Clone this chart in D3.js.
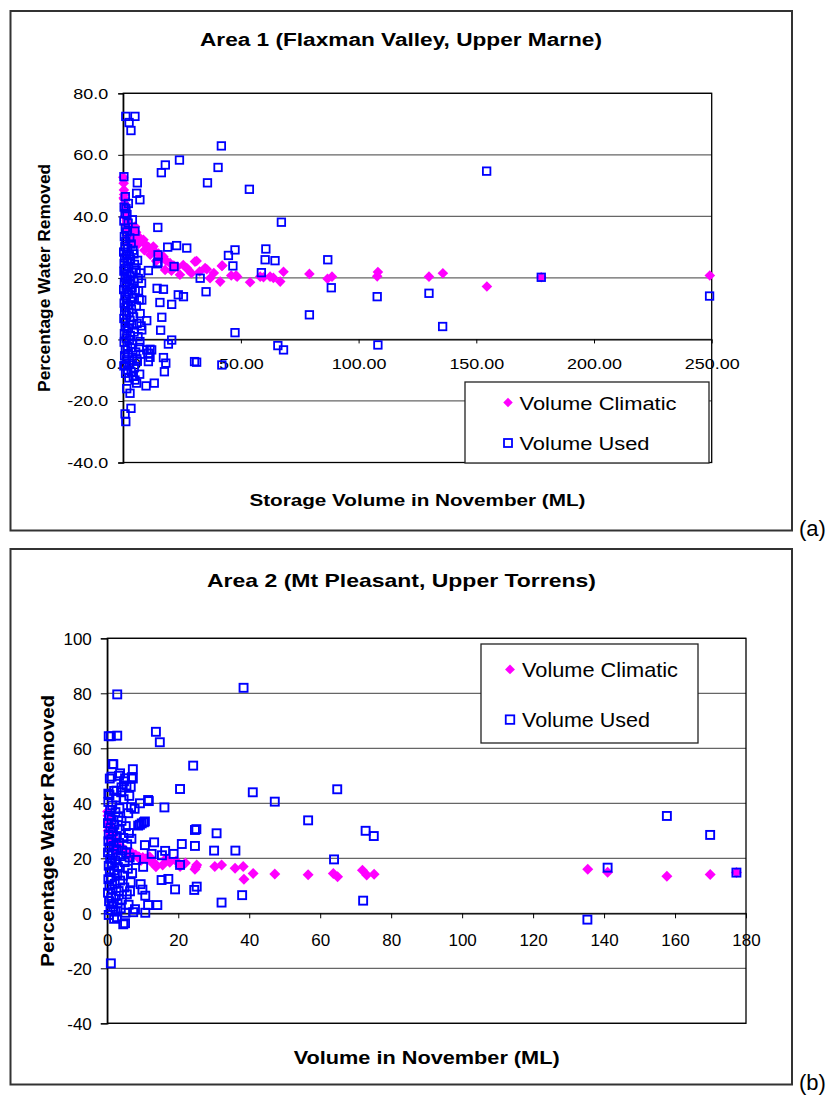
<!DOCTYPE html>
<html>
<head>
<meta charset="utf-8">
<title>Percentage water removed</title>
<script src="https://cdn.jsdelivr.net/npm/d3@7"></script>
<style>
  body { margin: 0; background: #fff; }
  svg text { font-family: "Liberation Sans", Arial, sans-serif; fill: #000; }
</style>
</head>
<body>
<script>

// ---- data ----

var area1Title = "Area 1 (Flaxman Valley, Upper Marne)";
var area1XLabel = "Storage Volume in November (ML)";
var area1XTicks = [0, 50, 100, 150, 200, 250];
var area1YTicks = [-40, -20, 0, 20, 40, 60, 80];

// [storage volume, percentage removed]
var area1Climatic = [
  [0.05,52.7],[0.2,50.8],[0.3,48.6],[0.4,47.1],[0.5,45.5],[0.6,44.2],[0.8,43.1],[0.9,42.0],
  [1.0,41.2],[1.2,40.3],[1.3,39.4],[1.5,38.6],[1.7,37.9],[1.9,37.1],[2.1,36.4],[2.3,35.6],
  [2.6,35.0],[2.9,34.3],[3.2,33.6],[3.5,33.0],[3.8,32.4],[4.2,31.9],[4.6,31.2],[0.2,46.0],
  [0.7,40.0],[1.1,37.5],[1.6,35.2],[2.0,33.2],[2.5,31.5],[3.0,30.8],
  [5.0,36.7],[5.5,34.8],[6.2,33.6],[7.0,32.9],[8.6,32.4],[9.5,30.8],[10.8,30.0],[12.8,30.2],
  [13.5,28.6],[15.0,27.9],[16.0,26.2],[17.1,26.9],[18.2,25.6],[19.9,24.8],[21.5,24.0],[17.8,22.6],
  [24.1,21.0],[27.0,23.2],[27.7,22.6],[30.5,25.3],[31.2,25.5],[34.8,23.2],[35.5,22.8],[36.9,19.9],
  [41.2,18.8],[41.9,23.9],[42.1,24.0],[45.9,20.8],[47.9,20.8],[48.4,20.4],[53.9,18.6],[58.2,20.4],
  [59.6,20.2],[62.4,20.4],[63.8,20.0],[66.7,18.8],[68.1,22.0],[79.1,21.3],[86.8,19.7],[88.7,20.4],
  [108.2,21.9],[107.9,20.5],[129.9,20.4],[135.8,21.5],[154.5,17.2],[177.6,20.2],[249.2,20.8],
  [11.5,27.5],[14.0,25.5],[9.0,29.0],[6.5,31.0],[20.5,22.3],[23.0,23.6],[25.5,24.2],[29.0,21.5],
  [32.5,22.1],[38.5,21.6]
];

var area1Used = [
  [1.1,72.5],[5.0,72.5],[2.5,70.5],[3.3,67.9],[41.7,62.9],[40.3,55.9],[23.9,58.3],[17.9,56.7],
  [16.2,54.2],[35.8,50.9],[53.6,48.8],[0.3,52.9],[6.0,50.9],[5.7,47.5],[7.1,45.4],[67.2,38.1],
  [14.7,36.4],[22.7,30.5],[27.0,29.7],[18.9,30.0],[14.8,27.5],[14.8,25.0],[44.7,27.3],[47.5,29.1],
  [46.6,23.9],[60.6,29.4],[60.3,25.9],[64.5,25.6],[86.9,25.9],[21.6,23.7],[10.7,22.4],[58.7,21.7],
  [32.7,19.9],[154.4,54.7],[88.4,16.8],[79.1,8.0],[107.9,13.9],[129.9,15.0],[135.7,4.2],[108.2,-1.8],
  [177.6,20.2],[249.1,14.1],[14.4,16.6],[17.1,16.3],[23.4,14.5],[25.6,13.9],[15.6,12.0],[20.6,11.4],
  [16.4,7.2],[15.9,3.0],[20.6,-0.2],[19.2,-1.5],[35.2,15.5],[47.5,2.2],[65.7,-2.0],[68.1,-3.4],
  [10.0,-3.4],[10.7,-7.2],[17.5,-10.5],[13.2,-14.2],[9.7,-15.1],[18.1,-7.7],[17.1,-5.9],[30.3,-7.2],
  [31.2,-7.4],[41.9,-8.3],[3.3,-22.4],[0.8,-24.2],[1.1,-26.7],[2.9,-17.5],[1.5,-16.0],[5.7,-14.2],
  [4.3,-12.0],[1.0,-11.0],[5.0,-13.2],[0.7,-8.4],[11.4,-3.2],[7.1,-0.7],[7.9,3.1],[10.0,6.1],
  [7.9,12.8],[14.5,24.6],[12.1,-3.4],[10.7,-4.5],[11.4,-5.8],
  [0.4,43.0],[1.2,42.5],[0.8,41.0],[1.6,40.6],[0.3,38.5],[2.1,37.8],[0.9,36.2],[1.5,34.9],
  [0.5,33.4],[2.8,33.0],[1.1,31.8],[3.4,31.0],[0.7,30.2],[1.9,29.5],[4.2,29.0],[0.2,28.4],
  [1.3,27.7],[2.6,27.2],[0.6,26.5],[3.1,26.0],[1.8,25.3],[0.4,24.7],[4.8,24.4],[2.3,23.8],
  [1.0,23.1],[5.5,22.6],[0.3,22.2],[3.6,21.8],[1.6,21.3],[2.9,20.7],[0.8,20.2],[6.4,19.8],
  [1.9,19.4],[4.5,18.9],[0.5,18.4],[2.7,17.9],[1.2,17.3],[3.8,16.8],[0.2,16.2],[5.1,15.9],
  [1.7,15.4],[2.4,14.8],[0.7,14.2],[4.1,13.7],[1.4,13.1],[6.8,12.9],[3.2,12.4],[0.4,11.8],
  [2.0,11.2],[5.6,10.9],[1.1,10.4],[3.5,9.8],[0.6,9.2],[2.5,8.7],[7.2,8.4],[1.5,7.9],
  [4.4,7.3],[0.3,6.8],[2.9,6.2],[1.0,5.6],[5.9,5.2],[3.7,4.7],[0.8,4.1],[2.2,3.5],
  [1.6,2.8],[4.6,2.4],[0.5,1.9],[3.0,1.3],[6.3,0.9],[1.3,0.4],[2.6,-0.3],[0.4,-0.9],
  [4.0,-1.5],[1.8,-2.2],[3.3,-2.8],[0.9,-3.4],[5.3,-4.1],[2.1,-4.7],[0.6,-5.3],[3.9,-5.9],
  [1.4,-6.6],[6.0,-7.1],[2.7,-7.8],[0.3,-8.6],[4.7,-9.2],[1.9,-9.9],[3.4,-10.6],[7.0,-11.3],
  [2.4,-12.5],[5.8,-6.3],[6.9,-2.6],[7.6,4.4],[6.5,15.8],[7.4,21.6],[5.0,35.2],[3.9,38.9],
  [2.2,44.2],[0.9,46.4],[4.6,27.8],[6.1,25.7],[7.8,18.3],[7.3,-4.8]
];

var area2Title = "Area 2 (Mt Pleasant, Upper Torrens)";
var area2XLabel = "Volume in November (ML)";
var area2XTicks = [0, 20, 40, 60, 80, 100, 120, 140, 160, 180];
var area2YTicks = [-40, -20, 0, 20, 40, 60, 80, 100];

var area2Climatic = [
  [0.1,37.0],[0.2,35.5],[0.3,34.2],[0.4,33.0],[0.5,32.0],[0.6,31.1],[0.8,30.2],[1.0,29.4],
  [1.2,28.6],[1.4,27.9],[1.7,27.2],[2.0,26.5],[2.3,25.8],[2.6,25.2],[3.0,24.6],[3.4,24.0],
  [3.8,23.5],[4.3,23.0],[4.9,23.1],[0.3,30.0],[0.7,28.0],[1.1,26.3],[1.6,25.0],[2.2,23.6],
  [2.8,22.7],[5.5,22.3],[6.2,21.9],[7.0,21.9],[8.0,21.2],[8.9,20.6],[10.0,20.3],[10.9,19.8],
  [11.9,20.6],[13.3,18.2],[13.7,16.9],[15.6,17.6],[17.6,18.6],[19.4,19.0],[20.5,17.0],[22.0,18.3],
  [24.7,16.0],[25.2,17.6],[25.0,16.8],[30.3,17.0],[32.2,17.6],[36.0,16.4],[38.3,17.0],[38.5,12.4],
  [41.1,14.5],[47.2,14.3],[56.6,14.0],[63.7,14.5],[64.9,13.3],[71.9,15.7],[73.1,13.9],[75.2,14.2],
  [135.4,16.0],[141.0,14.9],[157.7,13.5],[169.9,14.1],[177.3,14.8],[6.5,20.5],[9.5,19.2],[12.2,18.9],
  [16.5,19.8]
];

var area2Used = [
  [2.8,79.6],[38.4,82.0],[0.4,64.4],[1.0,64.4],[2.8,64.6],[13.7,66.0],[14.8,62.2],[1.7,54.2],
  [24.2,53.7],[7.2,52.4],[3.3,50.0],[0.7,49.0],[7.2,49.0],[4.7,48.0],[20.5,45.2],[41.0,44.0],
  [64.8,45.1],[47.2,40.6],[56.6,33.8],[16.1,38.5],[11.7,40.8],[9.2,40.0],[0.3,43.5],[0.6,43.0],
  [1.9,44.5],[6.2,42.7],[6.7,38.6],[7.7,38.0],[24.7,30.3],[25.1,30.6],[30.8,29.1],[72.8,30.0],
  [75.1,28.1],[10.3,33.1],[8.7,31.9],[157.7,35.4],[169.9,28.5],[141.0,16.6],[177.3,14.8],[135.3,-2.3],
  [63.9,19.6],[72.1,4.6],[13.2,25.8],[10.6,24.8],[21.0,25.2],[24.7,24.5],[30.1,22.8],[36.1,22.8],
  [16.3,22.7],[18.7,21.6],[15.4,21.1],[12.5,21.6],[20.5,17.6],[10.1,16.9],[8.1,19.4],[15.3,12.1],
  [17.2,12.5],[19.1,8.7],[24.5,8.5],[25.2,9.7],[38.0,6.6],[32.2,3.9],[14.1,3.0],[11.5,3.0],
  [9.4,10.6],[9.9,8.6],[10.7,6.4],[7.3,0.4],[7.8,1.5],[10.7,0.2],[5.0,-3.6],[4.5,-4.0],
  [2.7,-1.4],[1.9,-2.0],[1.0,-18.2],[9.7,32.7],[10.6,33.4],[9.2,32.2],[2.6,44.6],[4.0,45.8],
  [5.4,46.5],[6.6,46.0],[3.6,50.9],[1.2,49.7],[5.0,49.1],[6.9,49.5],[1.5,54.3],[11.5,41.2],
  [0.3,40.5],[1.4,39.2],[0.8,37.6],[2.3,36.8],[0.5,35.4],[3.1,35.0],[1.2,34.1],[4.0,33.6],
  [0.2,32.8],[2.0,32.2],[5.2,31.7],[0.9,31.0],[3.5,30.4],[1.6,29.8],[6.1,29.2],[0.4,28.6],
  [2.7,28.1],[4.5,27.4],[1.1,26.9],[0.3,26.2],[3.3,25.6],[5.6,25.1],[1.8,24.5],[0.6,23.9],
  [2.5,23.3],[4.2,22.8],[0.2,22.1],[1.5,21.5],[3.7,20.8],[6.3,20.3],[0.8,19.8],[2.2,19.1],
  [4.9,18.6],[1.3,18.0],[0.4,17.3],[3.0,16.8],[5.8,16.2],[1.9,15.6],[0.7,15.0],[2.8,14.3],
  [4.4,13.7],[1.0,13.1],[0.3,12.4],[3.6,11.9],[6.6,11.3],[2.1,10.7],[0.6,10.0],[4.8,9.4],
  [1.5,8.8],[3.2,8.1],[0.2,7.5],[5.5,6.9],[2.4,6.3],[1.1,5.6],[4.1,5.0],[0.5,4.4],
  [2.9,3.7],[6.0,3.1],[1.7,2.4],[3.8,1.8],[0.9,1.2],[2.3,0.6],[5.1,0.2],[0.4,-0.6],
  [1.3,3.4],[3.4,38.2],[5.9,36.4],[4.6,41.5],[2.5,42.1],[6.8,27.1],[7.0,14.6],[6.4,8.0],
  [5.3,22.0],[3.9,44.0]
];

var seriesNames = ["Volume Climatic", "Volume Used"];
var yLabel = "Percentage Water Removed";

// ---- page ----

var W = 832, H = 1097;
var svg = d3.select("body").append("svg")
    .attr("width", W)
    .attr("height", H);

// stretch text horizontally (the first chart is rendered wide)
function stretch(sel, k) {
  sel.each(function() {
    var w = this.getComputedTextLength();
    d3.select(this).attr("textLength", w * k).attr("lengthAdjust", "spacingAndGlyphs");
  });
}

function diamond(r) {
  return "M0," + (-r) + "L" + r + ",0L0," + r + "L" + (-r) + ",0Z";
}

// plain hyphen for negatives, like the original
function fixed(n) {
  return function(d) { return d.toFixed(n); };
}

function drawPanel(p) {
  var g = svg.append("g");

  // outer frame
  g.append("rect")
    .attr("x", p.frame[0]).attr("y", p.frame[1])
    .attr("width", p.frame[2]).attr("height", p.frame[3])
    .attr("fill", "none").attr("stroke", "#333").attr("stroke-width", 2);

  var x = d3.scaleLinear().domain(p.xDomain).range([p.left, p.right]);
  var y = d3.scaleLinear().domain(p.yDomain).range([p.bottom, p.top]);

  // gridlines
  g.selectAll("line.grid")
    .data(p.yTicks)
    .enter().append("line")
    .attr("class", "grid")
    .attr("x1", p.left).attr("x2", p.right)
    .attr("y1", function(d) { return y(d); })
    .attr("y2", function(d) { return y(d); })
    .attr("stroke", "#666").attr("stroke-width", 1.2);

  // plot border
  g.append("rect")
    .attr("x", p.left).attr("y", p.top)
    .attr("width", p.right - p.left).attr("height", p.bottom - p.top)
    .attr("fill", "none").attr("stroke", "#000").attr("stroke-width", 1.3);

  // y axis
  var yAxis = g.append("g")
    .attr("transform", "translate(" + p.left + ",0)")
    .call(d3.axisLeft(y).tickValues(p.yTicks).tickFormat(p.yFormat)
            .tickSize(p.yTickSize).tickPadding(p.yTickPad));
  yAxis.select(".domain").attr("stroke", "#000").attr("stroke-width", 1.3);
  yAxis.selectAll("text")
    .style("font-size", p.tickFont + "px")
    .attr("dy", p.yDy);

  // x axis crossing at 0
  var xAxis = g.append("g")
    .attr("transform", "translate(0," + y(0) + ")")
    .call(d3.axisBottom(x).tickValues(p.xTicks).tickFormat(p.xFormat)
            .tickSize(p.xTickSize).tickPadding(p.xTickPad).tickSizeOuter(0));
  xAxis.select(".domain").attr("stroke", "#000").attr("stroke-width", 1.3);
  xAxis.selectAll("text").style("font-size", p.tickFont + "px");

  if (p.textStretch) {
    stretch(yAxis.selectAll("text"), p.textStretch);
    stretch(xAxis.selectAll("text"), p.textStretch);
  }

  // marks: climatic diamonds below, used squares on top
  g.selectAll("path.clim")
    .data(p.climatic)
    .enter().append("path")
    .attr("class", "clim")
    .attr("d", diamond(p.diamondR))
    .attr("transform", function(d) { return "translate(" + x(d[0]) + "," + y(d[1]) + ")"; })
    .attr("fill", "#FF00FF");

  g.selectAll("rect.used")
    .data(p.used)
    .enter().append("rect")
    .attr("class", "used")
    .attr("x", function(d) { return x(d[0]) - p.square / 2; })
    .attr("y", function(d) { return y(d[1]) - p.square / 2; })
    .attr("width", p.square).attr("height", p.square)
    .attr("fill", "none").attr("stroke", "#0000FF").attr("stroke-width", p.squareStroke);

  // legend
  var lg = g.append("g");
  lg.append("rect")
    .attr("x", p.legend[0]).attr("y", p.legend[1])
    .attr("width", p.legend[2]).attr("height", p.legend[3])
    .attr("fill", "#fff").attr("stroke", "#222").attr("stroke-width", 1.3);
  lg.append("path")
    .attr("d", diamond(p.diamondR * 0.9))
    .attr("transform", "translate(" + p.legendMarkX + "," + p.legendRows[0] + ")")
    .attr("fill", "#FF00FF");
  lg.append("rect")
    .attr("x", p.legendMarkX - p.legendSquare / 2)
    .attr("y", p.legendRows[1] - p.legendSquare / 2)
    .attr("width", p.legendSquare).attr("height", p.legendSquare)
    .attr("fill", "none").attr("stroke", "#0000FF").attr("stroke-width", 1.8);
  seriesNames.forEach(function(name, i) {
    lg.append("text")
      .attr("x", p.legendTextX)
      .attr("y", p.legendRows[i] + p.legendBase)
      .style("font-size", p.legendFont + "px")
      .attr("textLength", p.legendWidths[i])
      .attr("lengthAdjust", "spacingAndGlyphs")
      .text(name);
  });

  // title
  g.append("text")
    .attr("x", p.titlePos[0]).attr("y", p.titlePos[1])
    .attr("text-anchor", "middle")
    .style("font-size", p.titleFont + "px").style("font-weight", "bold")
    .attr("textLength", p.titleWidth).attr("lengthAdjust", "spacingAndGlyphs")
    .text(p.title);

  // x title
  g.append("text")
    .attr("x", (p.left + p.right) / 2).attr("y", p.xLabelY)
    .attr("text-anchor", "middle")
    .style("font-size", p.xLabelFont + "px").style("font-weight", "bold")
    .attr("textLength", p.xLabelWidth).attr("lengthAdjust", "spacingAndGlyphs")
    .text(p.xLabel);

  // y title
  g.append("text")
    .attr("transform", "translate(" + p.yLabelX + "," + ((p.top + p.bottom) / 2) + ") rotate(-90)")
    .attr("text-anchor", "middle")
    .style("font-size", p.yLabelFont + "px").style("font-weight", "bold")
    .attr("textLength", p.yLabelWidth).attr("lengthAdjust", "spacingAndGlyphs")
    .text(yLabel);

  // panel tag
  g.append("text")
    .attr("x", 799).attr("y", p.tagY)
    .style("font-size", "22px")
    .text(p.tag);
}

drawPanel({
  frame: [10.5, 11, 781.5, 519.5],
  left: 123.2, right: 711.7, top: 93.3, bottom: 462.5,
  xDomain: [0, 250], yDomain: [-40, 80],
  xTicks: area1XTicks, yTicks: area1YTicks,
  xFormat: fixed(2), yFormat: fixed(1),
  yTickSize: 5, yTickPad: 10, yDy: "0.34em",
  xTickSize: 4, xTickPad: 15.5,
  tickFont: 14, textStretch: 1.28,
  climatic: area1Climatic, used: area1Used,
  diamondR: 5.3, square: 7.5, squareStroke: 1.8,
  legend: [465, 382, 244, 81], legendMarkX: 508, legendRows: [402.6, 443],
  legendSquare: 8, legendTextX: 519.5, legendBase: 7.2, legendFont: 18,
  legendWidths: [157, 130],
  title: area1Title, titlePos: [401, 45.5], titleFont: 17.5, titleWidth: 402,
  xLabel: area1XLabel, xLabelY: 505.5, xLabelFont: 17, xLabelWidth: 336,
  yLabelX: 49.5, yLabelFont: 16, yLabelWidth: 228,
  tag: "(a)", tagY: 536
});

drawPanel({
  frame: [10.5, 549, 781.5, 535.5],
  left: 107.3, right: 746, top: 638.3, bottom: 1023.3,
  xDomain: [0, 180], yDomain: [-40, 100],
  xTicks: area2XTicks, yTicks: area2YTicks,
  xFormat: fixed(0), yFormat: fixed(0),
  yTickSize: 6.5, yTickPad: 9, yDy: "0.38em",
  xTickSize: 5, xTickPad: 15.6,
  tickFont: 17, textStretch: 0,
  climatic: area2Climatic, used: area2Used,
  diamondR: 5.5, square: 8, squareStroke: 1.9,
  legend: [481, 644, 217, 99], legendMarkX: 510, legendRows: [669.4, 719.6],
  legendSquare: 8.5, legendTextX: 522, legendBase: 7.4, legendFont: 21,
  legendWidths: [156, 128],
  title: area2Title, titlePos: [401.5, 586.5], titleFont: 19, titleWidth: 389,
  xLabel: area2XLabel, xLabelY: 1064, xLabelFont: 19, xLabelWidth: 266,
  yLabelX: 53.5, yLabelFont: 19, yLabelWidth: 272,
  tag: "(b)", tagY: 1090
});

</script>
</body>
</html>
